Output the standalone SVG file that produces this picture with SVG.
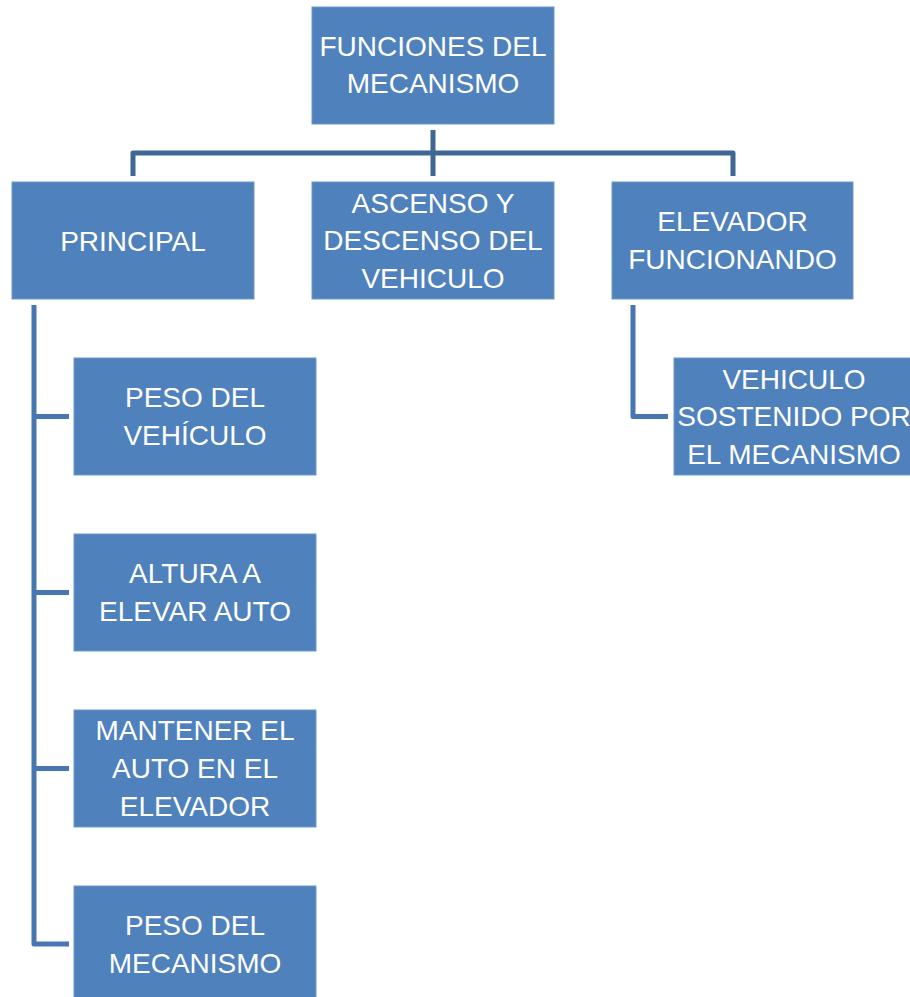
<svg xmlns="http://www.w3.org/2000/svg" width="910" height="997" viewBox="0 0 910 997">
<style>
.box{fill:#4F81BD;stroke:#6E97C9;stroke-width:1}
.t{font-family:"Liberation Sans",Arial,sans-serif;font-size:28px;fill:#FFFFFF;text-anchor:middle}
.c1{fill:none;stroke:#3E6796;stroke-width:5;stroke-linejoin:round;stroke-linecap:butt}
.c2{fill:none;stroke:#4677B2;stroke-width:5;stroke-linejoin:round;stroke-linecap:butt}
</style>
<rect width="910" height="997" fill="#FFFFFF"/>
<g id="connectors">
<path class="c1" d="M433,130 V176 M133,176 V153 H733 V176"/>
<path class="c2" d="M34,305 V944 H69 M34,416.5 H69 M34,592.5 H69 M34,768.5 H69"/>
<path class="c2" d="M633,305 V416.5 H668"/>
</g>
<g id="n-root">
<rect class="box" x="312" y="7" width="242" height="117"/>
<text class="t" x="433" y="56">FUNCIONES DEL</text>
<text class="t" x="433" y="93">MECANISMO</text>
</g>
<g id="n-principal">
<rect class="box" x="12" y="182" width="242" height="117"/>
<text class="t" x="133" y="251">PRINCIPAL</text>
</g>
<g id="n-ascenso">
<rect class="box" x="312" y="182" width="242" height="117"/>
<text class="t" x="433" y="213">ASCENSO Y</text>
<text class="t" x="433" y="250">DESCENSO DEL</text>
<text class="t" x="433" y="288">VEHICULO</text>
</g>
<g id="n-elevador">
<rect class="box" x="612" y="182" width="241" height="117"/>
<text class="t" x="732.5" y="231">ELEVADOR</text>
<text class="t" x="732.5" y="269">FUNCIONANDO</text>
</g>
<g id="n-vehiculo">
<rect class="box" x="674" y="358" width="242" height="117"/>
<text class="t" x="794" y="389">VEHICULO</text>
<text class="t" x="794" y="426">SOSTENIDO POR</text>
<text class="t" x="794" y="464">EL MECANISMO</text>
</g>
<g id="n-peso-vehiculo">
<rect class="box" x="74" y="358" width="242" height="117"/>
<text class="t" x="195" y="407">PESO DEL</text>
<text class="t" x="195" y="445">VEHÍCULO</text>
</g>
<g id="n-altura">
<rect class="box" x="74" y="534" width="242" height="117"/>
<text class="t" x="195" y="583">ALTURA A</text>
<text class="t" x="195" y="621">ELEVAR AUTO</text>
</g>
<g id="n-mantener">
<rect class="box" x="74" y="710" width="242" height="117"/>
<text class="t" x="195" y="740">MANTENER EL</text>
<text class="t" x="195" y="778">AUTO EN EL</text>
<text class="t" x="195" y="816">ELEVADOR</text>
</g>
<g id="n-peso-mecanismo">
<rect class="box" x="74" y="886" width="242" height="117"/>
<text class="t" x="195" y="935">PESO DEL</text>
<text class="t" x="195" y="973">MECANISMO</text>
</g>
</svg>
